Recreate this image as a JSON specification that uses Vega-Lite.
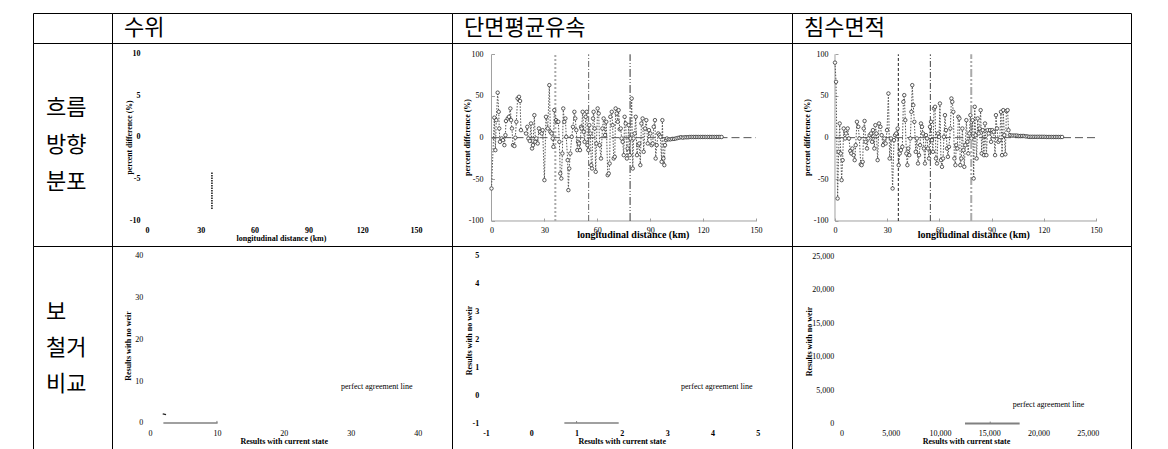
{
"$schema": "https://vega.github.io/schema/vega-lite/v6.json",
"padding": {"left": 32, "top": 12, "right": 0, "bottom": 0},
"spacing": 0,
"bounds": "flush",
"align": "each",
"columns": 4,
"config": {
  "view": {"stroke": "black", "strokeWidth": 1},
  "locale": {"number": {"decimal": ".", "thousands": ",", "grouping": [3], "currency": ["$", ""], "minus": "-"}},
  "axis": {"grid": false, "domain": false, "ticks": false, "tickSize": 0, "labelFont": "Liberation Serif", "titleFont": "Liberation Serif", "labelColor": "black", "titleColor": "black", "labelFontSize": 8, "titleFontSize": 8, "titleFontWeight": "bold", "labelFlush": false, "labelOverlap": false, "titleBaseline": "middle"},
  "text": {"font": "Liberation Serif", "fontSize": 8, "color": "black"}
},
"concat": [
    {"width": 79, "height": 30, "view": {"stroke": "black", "strokeWidth": 1}, "data": {"values": [{"t": ""}]}, "mark": {"type": "text"}, "encoding": {"text": {"field": "t"}}},
    {"width": 340, "height": 30, "view": {"stroke": "black", "strokeWidth": 1}, "data": {"values": [{"t": "수위"}]}, "mark": {"type": "text", "align": "left", "baseline": "middle", "dx": -158, "font": "Noto Sans CJK KR", "fontSize": 22, "color": "black"}, "encoding": {"text": {"field": "t"}}},
    {"width": 340, "height": 30, "view": {"stroke": "black", "strokeWidth": 1}, "data": {"values": [{"t": "단면평균유속"}]}, "mark": {"type": "text", "align": "left", "baseline": "middle", "dx": -158, "font": "Noto Sans CJK KR", "fontSize": 22, "color": "black"}, "encoding": {"text": {"field": "t"}}},
    {"width": 339, "height": 30, "view": {"stroke": "black", "strokeWidth": 1}, "data": {"values": [{"t": "침수면적"}]}, "mark": {"type": "text", "align": "left", "baseline": "middle", "dx": -157.5, "font": "Noto Sans CJK KR", "fontSize": 22, "color": "black"}, "encoding": {"text": {"field": "t"}}},
    {"width": 79, "height": 203, "view": {"stroke": "black", "strokeWidth": 1}, "data": {"values": [{"t": ["흐름", "방향", "분포"]}]}, "mark": {"type": "text", "align": "left", "baseline": "middle", "dx": -26.5, "dy": -37, "lineHeight": 37, "font": "Noto Sans CJK KR", "fontSize": 22, "color": "black"}, "encoding": {"text": {"field": "t"}}},
    {"width": 340, "height": 203,
     "encoding": {
       "x": {"field": "x", "type": "quantitative", "scale": {"domain": [-19.52, 170.07], "nice": false, "zero": false},
             "axis": {"values": [0, 30, 60, 90, 120, 150], "offset": -20, "labelPadding": 4.5, "labelBaseline": "middle", "labelFontWeight": "bold", "title": "longitudinal distance (km)", "titleX": 169, "titleY": 12}},
       "y": {"field": "y", "type": "quantitative", "scale": {"domain": [-13.12, 11.24], "nice": false, "zero": false},
             "axis": {"values": [-10, -5, 0, 5, 10], "offset": -30, "labelPadding": 2, "labelFontWeight": "bold", "title": "percent difference (%)", "titleX": -13, "titleY": 94, "titleFontSize": 7.7}}
     },
     "layer": [
       {"data": {"values": [{"x": 36.2, "y": -4.3, "y2": -8.7}]}, "mark": {"type": "rule", "color": "#222", "strokeWidth": 1.6, "strokeDash": [1.5, 1]}, "encoding": {"y2": {"field": "y2"}}}
     ]},
    {"width": 340, "height": 203,
     "encoding": {
       "x": {"field": "x", "type": "quantitative", "scale": {"domain": [-22.4, 170.42], "nice": false, "zero": false},
             "axis": {"values": [0, 30, 60, 90, 120, 150], "offset": -25, "ticks": true, "tickSize": -3, "tickColor": "#a0a0a0", "labelPadding": 12.3, "labelBaseline": "middle", "title": "longitudinal distance (km)", "titleX": 180.8, "titleY": 13.2, "titleFontSize": 10}},
       "y": {"field": "y", "type": "quantitative", "scale": {"domain": [-130.0, 113.56], "nice": false, "zero": false},
             "axis": {"values": [-100, -50, 0, 50, 100], "offset": -39.5, "ticks": true, "tickSize": -3, "tickColor": "#a0a0a0", "labelPadding": 11.5, "title": "percent difference (%)", "titleX": -23.8, "titleY": 94}}
     },
     "layer": [
       {"data": {"values": [{"x": 0, "y": -100, "y2": 100}]}, "mark": {"type": "rule", "color": "#a0a0a0", "strokeWidth": 1}, "encoding": {"y2": {"field": "y2"}}},
       {"data": {"values": [{"x": 0, "x2": 150, "y": -100}]}, "mark": {"type": "rule", "color": "#a0a0a0", "strokeWidth": 1}, "encoding": {"x2": {"field": "x2"}}},
       {"data": {"values": [{"x": 0, "x2": 150, "y": 0}]}, "mark": {"type": "rule", "color": "#555", "strokeWidth": 1, "strokeDash": [8, 4]}, "encoding": {"x2": {"field": "x2"}}},
       {"data": {"values": [{"x": 36.2, "y": -100, "y2": 100}]}, "mark": {"type": "rule", "color": "#aaaaaa", "strokeWidth": 2, "strokeDash": [2, 2]}, "encoding": {"y2": {"field": "y2"}}},
       {"data": {"values": [{"x": 55.1, "y": -100, "y2": 100}]}, "mark": {"type": "rule", "color": "#666", "strokeWidth": 1, "strokeDash": [6, 2, 1, 2]}, "encoding": {"y2": {"field": "y2"}}},
       {"data": {"values": [{"x": 78.6, "y": -100, "y2": 100}]}, "mark": {"type": "rule", "color": "#333", "strokeWidth": 1, "strokeDash": [8, 2, 1, 2, 1, 2]}, "encoding": {"y2": {"field": "y2"}}},
       {"data": {"values": [
         {"x":0.0,"y":-61},{"x":1.6,"y":24},{"x":2.2,"y":-15},{"x":2.7,"y":21},{"x":3.5,"y":54},{"x":4.1,"y":31},{"x":4.4,"y":11},{"x":4.8,"y":-5},{"x":5.8,"y":-1},{"x":6.5,"y":-3},{"x":7.3,"y":-9},{"x":7.9,"y":3},{"x":8.2,"y":20},{"x":9.2,"y":23},{"x":9.9,"y":25},{"x":10.7,"y":35},{"x":11.1,"y":21},{"x":11.6,"y":11},{"x":12.2,"y":-9},{"x":13.0,"y":-10},{"x":13.5,"y":0},{"x":14.1,"y":19},{"x":14.8,"y":47},{"x":15.6,"y":49},{"x":16.2,"y":44},{"x":16.7,"y":9},
         {"x":19.6,"y":5},{"x":20.3,"y":13},{"x":20.9,"y":-1},{"x":21.7,"y":-4},{"x":22.4,"y":17},{"x":23.0,"y":-13},{"x":23.5,"y":-9},{"x":24.3,"y":27},{"x":24.9,"y":-5},{"x":25.4,"y":-1},{"x":26.2,"y":-7},{"x":26.9,"y":11},{"x":27.5,"y":7},{"x":28.5,"y":5},{"x":29.0,"y":9},{"x":30.0,"y":-51},{"x":30.9,"y":25},{"x":31.9,"y":11},{"x":32.8,"y":63},{"x":33.4,"y":7},{"x":34.1,"y":5},{"x":34.7,"y":-1},{"x":35.1,"y":-11},{"x":35.6,"y":33},
         {"x":36.6,"y":21},{"x":37.2,"y":19},{"x":37.9,"y":19},{"x":38.5,"y":-5},{"x":39.0,"y":-43},{"x":39.6,"y":-49},{"x":40.2,"y":-19},{"x":40.7,"y":35},{"x":41.3,"y":19},{"x":41.9,"y":23},{"x":42.4,"y":1},{"x":43.2,"y":-27},{"x":43.6,"y":-63},{"x":44.1,"y":-37},{"x":44.7,"y":-19},{"x":45.5,"y":1},{"x":46.2,"y":13},{"x":47.0,"y":31},{"x":47.5,"y":23},{"x":48.1,"y":9},{"x":48.7,"y":-15},{"x":49.1,"y":-5},{"x":49.6,"y":-7},{"x":50.2,"y":-15},{"x":50.8,"y":13},{"x":51.1,"y":11},{"x":51.7,"y":31},{"x":52.3,"y":7},{"x":52.8,"y":-5},{"x":53.4,"y":25},{"x":54.0,"y":31},{"x":54.4,"y":-9},{"x":54.9,"y":-15},
         {"x":55.5,"y":15},{"x":56.1,"y":5},{"x":56.6,"y":-33},{"x":57.0,"y":-37},{"x":57.6,"y":23},{"x":57.9,"y":31},{"x":58.5,"y":11},{"x":59.1,"y":-41},{"x":59.5,"y":-7},{"x":60.2,"y":35},{"x":60.8,"y":29},{"x":61.3,"y":-9},{"x":62.1,"y":-25},{"x":62.9,"y":11},{"x":63.6,"y":23},{"x":64.4,"y":3},{"x":65.1,"y":19},{"x":65.9,"y":-45},{"x":66.5,"y":-43},{"x":67.0,"y":-31},{"x":67.4,"y":25},{"x":68.2,"y":31},{"x":68.7,"y":15},{"x":69.3,"y":-25},{"x":69.9,"y":-23},{"x":70.4,"y":35},{"x":71.0,"y":29},{"x":71.6,"y":19},{"x":72.1,"y":33},{"x":72.7,"y":10},{"x":73.3,"y":11},{"x":73.8,"y":-1},{"x":74.4,"y":-5},{"x":75.0,"y":-21},{"x":75.5,"y":25},{"x":76.1,"y":17},{"x":76.8,"y":-25},{"x":77.2,"y":-13},{"x":77.8,"y":15},{"x":78.4,"y":-21},{"x":78.9,"y":-1},
         {"x":79.5,"y":47},{"x":80.1,"y":-37},{"x":80.6,"y":-1},{"x":81.2,"y":5},{"x":81.8,"y":25},{"x":82.5,"y":-21},{"x":83.3,"y":-9},{"x":83.8,"y":-7},{"x":84.4,"y":-33},{"x":85.0,"y":17},{"x":85.7,"y":23},{"x":86.3,"y":-17},{"x":87.1,"y":11},{"x":87.8,"y":21},{"x":88.6,"y":-7},{"x":89.3,"y":9},{"x":90.1,"y":5},{"x":90.8,"y":-9},{"x":91.4,"y":-7},{"x":92.0,"y":13},{"x":92.7,"y":21},{"x":93.1,"y":-25},{"x":93.7,"y":-9},{"x":94.6,"y":5},{"x":95.2,"y":3},{"x":95.8,"y":1},{"x":96.5,"y":-29},{"x":96.9,"y":21},{"x":97.5,"y":-25},{"x":98.0,"y":-33},{"x":98.4,"y":-9},{"x":99.0,"y":-3},{"x":99.5,"y":-1},
         {"x":100.5,"y":-2},{"x":101.5,"y":-2},{"x":102.5,"y":-1.5},{"x":103.5,"y":-1.5},{"x":104.5,"y":-1},{"x":105.5,"y":-0.5},{"x":106.5,"y":0},{"x":107.5,"y":0.5},{"x":108.5,"y":0},{"x":109.5,"y":0.5},{"x":110.5,"y":0.5},{"x":111.5,"y":0.5},{"x":112.5,"y":0.8},{"x":113.5,"y":0.8},{"x":114.5,"y":0.8},{"x":115.5,"y":0.8},{"x":116.5,"y":0.8},{"x":117.5,"y":0.8},{"x":118.5,"y":0.8},{"x":119.5,"y":0.8},{"x":120.5,"y":0.8},{"x":121.5,"y":0.8},{"x":122.5,"y":0.8},{"x":123.5,"y":0.8},{"x":124.5,"y":0.8},{"x":125.5,"y":0.8},{"x":126.5,"y":0.8},{"x":127.5,"y":0.8},{"x":128.5,"y":0.8},{"x":129.5,"y":0.8},{"x":130.5,"y":0.8}
       ]},
        "layer": [
          {"mark": {"type": "line", "color": "#555", "strokeWidth": 1, "strokeDash": [1.5, 1.5]}, "encoding": {}},
          {"mark": {"type": "point", "shape": "circle", "filled": false, "fill": "white", "fillOpacity": 1, "stroke": "#333", "strokeWidth": 0.8, "size": 12, "opacity": 1}, "encoding": {}}
        ]}
     ]},
    {"width": 339, "height": 203,
     "encoding": {
       "x": {"field": "x", "type": "quantitative", "scale": {"domain": [-24.71, 170.11], "nice": false, "zero": false},
             "axis": {"values": [0, 30, 60, 90, 120, 150], "offset": -25, "ticks": true, "tickSize": -3, "tickColor": "#a0a0a0", "labelPadding": 12.5, "labelBaseline": "middle", "title": "longitudinal distance (km)", "titleX": 181.3, "titleY": 13.8, "titleFontSize": 10}},
       "y": {"field": "y", "type": "quantitative", "scale": {"domain": [-130.0, 113.56], "nice": false, "zero": false},
             "axis": {"values": [-100, -50, 0, 50, 100], "offset": -43, "ticks": true, "tickSize": -3, "tickColor": "#a0a0a0", "labelPadding": 10, "title": "percent difference (%)", "titleX": -27.3, "titleY": 94}}
     },
     "layer": [
       {"data": {"values": [{"x": 0, "y": -100, "y2": 100}]}, "mark": {"type": "rule", "color": "#a0a0a0", "strokeWidth": 1}, "encoding": {"y2": {"field": "y2"}}},
       {"data": {"values": [{"x": 0, "x2": 150, "y": -100}]}, "mark": {"type": "rule", "color": "#a0a0a0", "strokeWidth": 1}, "encoding": {"x2": {"field": "x2"}}},
       {"data": {"values": [{"x": 0, "x2": 150, "y": 0}]}, "mark": {"type": "rule", "color": "#555", "strokeWidth": 1, "strokeDash": [8, 4]}, "encoding": {"x2": {"field": "x2"}}},
       {"data": {"values": [{"x": 36.4, "y": -100, "y2": 100}]}, "mark": {"type": "rule", "color": "#222", "strokeWidth": 1, "strokeDash": [3, 2]}, "encoding": {"y2": {"field": "y2"}}},
       {"data": {"values": [{"x": 54.8, "y": -100, "y2": 100}]}, "mark": {"type": "rule", "color": "#444", "strokeWidth": 1, "strokeDash": [6, 2, 1, 2]}, "encoding": {"y2": {"field": "y2"}}},
       {"data": {"values": [{"x": 78.3, "y": -100, "y2": 100}]}, "mark": {"type": "rule", "color": "#aaaaaa", "strokeWidth": 2, "strokeDash": [8, 2, 2, 2, 2, 2]}, "encoding": {"y2": {"field": "y2"}}},
       {"data": {"values": [
         {"x":0.0,"y":90},{"x":0.6,"y":67},{"x":1.5,"y":-73},{"x":2.1,"y":-17},{"x":2.7,"y":17},{"x":3.3,"y":-19},{"x":3.8,"y":-51},{"x":4.4,"y":-27},{"x":5.0,"y":11},{"x":5.8,"y":-1},{"x":6.3,"y":5},{"x":7.3,"y":11},{"x":8.0,"y":-1},{"x":8.8,"y":-16},{"x":9.4,"y":-19},{"x":10.0,"y":-13},{"x":10.7,"y":-21},{"x":11.3,"y":-27},{"x":11.9,"y":-9},{"x":12.6,"y":19},{"x":13.4,"y":13},{"x":14.0,"y":-1},{"x":14.8,"y":-32},{"x":15.3,"y":-33},{"x":15.9,"y":-29},{"x":16.5,"y":11},{"x":17.0,"y":20},{"x":17.6,"y":-5},{"x":18.4,"y":-13},{"x":19.2,"y":-1},{"x":19.9,"y":3},{"x":20.7,"y":5},{"x":21.3,"y":-5},{"x":21.8,"y":9},{"x":22.6,"y":-13},{"x":23.2,"y":15},{"x":23.8,"y":5},{"x":24.5,"y":-27},{"x":25.3,"y":17},{"x":26.1,"y":13},{"x":26.8,"y":3},{"x":27.6,"y":-9},{"x":28.4,"y":-1},{"x":29.1,"y":-7},{"x":29.9,"y":9},{"x":30.7,"y":53},{"x":31.4,"y":-25},{"x":32.2,"y":-1},{"x":33.1,"y":-61},{"x":33.9,"y":-3},{"x":34.5,"y":3},{"x":35.2,"y":5},{"x":36.0,"y":11},
         {"x":36.6,"y":-33},{"x":37.2,"y":-19},{"x":37.9,"y":-15},{"x":38.7,"y":-11},{"x":39.3,"y":43},{"x":39.8,"y":51},{"x":40.4,"y":21},{"x":41.0,"y":-19},{"x":41.6,"y":-33},{"x":42.1,"y":-13},{"x":42.7,"y":-21},{"x":43.3,"y":-1},{"x":43.9,"y":31},{"x":44.4,"y":63},{"x":45.0,"y":39},{"x":45.6,"y":19},{"x":46.4,"y":-17},{"x":47.1,"y":-1},{"x":47.7,"y":-31},{"x":48.3,"y":-21},{"x":48.9,"y":-9},{"x":49.4,"y":17},{"x":50.0,"y":13},{"x":50.6,"y":5},{"x":51.1,"y":-13},{"x":51.7,"y":-31},{"x":52.3,"y":3},{"x":52.9,"y":-1},{"x":53.4,"y":-13},{"x":54.0,"y":-25},{"x":54.6,"y":13},
         {"x":55.2,"y":19},{"x":55.7,"y":-3},{"x":56.3,"y":-17},{"x":56.9,"y":35},{"x":57.5,"y":37},{"x":58.0,"y":-25},{"x":58.6,"y":-31},{"x":59.2,"y":5},{"x":59.8,"y":1},{"x":60.3,"y":41},{"x":60.9,"y":-27},{"x":61.5,"y":-35},{"x":62.1,"y":-25},{"x":62.6,"y":1},{"x":63.2,"y":27},{"x":63.8,"y":9},{"x":64.4,"y":-13},{"x":64.9,"y":-23},{"x":65.5,"y":-11},{"x":66.3,"y":11},{"x":66.9,"y":47},{"x":67.4,"y":43},{"x":68.0,"y":31},{"x":68.6,"y":-25},{"x":69.2,"y":-33},{"x":69.7,"y":-9},{"x":70.3,"y":-13},{"x":70.9,"y":25},{"x":71.5,"y":23},{"x":72.0,"y":-33},{"x":72.6,"y":-25},{"x":73.2,"y":11},{"x":73.8,"y":-15},{"x":74.3,"y":-35},{"x":74.9,"y":-9},{"x":75.5,"y":21},{"x":76.1,"y":-5},{"x":76.6,"y":-19},{"x":77.2,"y":5},{"x":77.8,"y":27},{"x":78.4,"y":-1},
         {"x":79.1,"y":21},{"x":79.7,"y":-49},{"x":80.3,"y":37},{"x":80.8,"y":3},{"x":81.4,"y":-25},{"x":82.0,"y":23},{"x":82.6,"y":5},{"x":83.1,"y":11},{"x":83.7,"y":33},{"x":84.3,"y":-19},{"x":84.9,"y":9},{"x":85.6,"y":-21},{"x":86.2,"y":17},{"x":87.0,"y":-21},{"x":87.7,"y":9},{"x":88.3,"y":5},{"x":89.1,"y":9},{"x":89.7,"y":-5},{"x":90.4,"y":9},{"x":91.2,"y":7},{"x":92.0,"y":-21},{"x":92.5,"y":27},{"x":93.1,"y":11},{"x":93.9,"y":-5},{"x":94.6,"y":-3},{"x":95.4,"y":31},{"x":96.0,"y":-21},{"x":96.7,"y":33},{"x":97.3,"y":3},{"x":97.9,"y":-20},{"x":98.5,"y":32},{"x":99.2,"y":33},{"x":99.7,"y":9},
         {"x":100.5,"y":3},{"x":101.5,"y":2.5},{"x":102.5,"y":2.5},{"x":103.5,"y":2.5},{"x":104.5,"y":2.5},{"x":105.5,"y":2},{"x":106.5,"y":2},{"x":107.5,"y":2},{"x":108.5,"y":2},{"x":109.5,"y":1.5},{"x":110.5,"y":1.5},{"x":111.5,"y":1},{"x":112.5,"y":1},{"x":113.5,"y":1},{"x":114.5,"y":1},{"x":115.5,"y":1},{"x":116.5,"y":1},{"x":117.5,"y":1},{"x":118.5,"y":1},{"x":119.5,"y":1},{"x":120.5,"y":1},{"x":121.5,"y":0.8},{"x":122.5,"y":0.8},{"x":123.5,"y":0.8},{"x":124.5,"y":0.8},{"x":125.5,"y":0.8},{"x":126.5,"y":0.8},{"x":127.5,"y":0.8},{"x":128.5,"y":0.8},{"x":129.5,"y":0.8},{"x":130.5,"y":0.8}
       ]},
        "layer": [
          {"mark": {"type": "line", "color": "#555", "strokeWidth": 1, "strokeDash": [1.5, 1.5]}, "encoding": {}},
          {"mark": {"type": "point", "shape": "circle", "filled": false, "fill": "white", "fillOpacity": 1, "stroke": "#333", "strokeWidth": 0.8, "size": 12, "opacity": 1}, "encoding": {}}
        ]}
     ]},
    {"width": 79, "height": 203, "view": {"stroke": "black", "strokeWidth": 1}, "data": {"values": [{"t": ["보", "철거", "비교"]}]}, "mark": {"type": "text", "align": "left", "baseline": "middle", "dx": -26.5, "dy": -35.5, "lineHeight": 36, "font": "Noto Sans CJK KR", "fontSize": 22, "color": "black"}, "encoding": {"text": {"field": "t"}}},
    {"width": 340, "height": 203,
     "encoding": {
       "x": {"field": "x", "type": "quantitative", "scale": {"domain": [-5.678, 45.125], "nice": false, "zero": false},
             "axis": {"values": [0, 10, 20, 30, 40], "offset": -20, "labelPadding": 4.3, "labelBaseline": "middle", "title": "Results with current state", "titleX": 171.7, "titleY": 12.3}},
       "y": {"field": "y", "type": "quantitative", "scale": {"domain": [-6.228, 42.395], "nice": false, "zero": false},
             "axis": {"values": [0, 10, 20, 30, 40], "offset": -33, "labelPadding": 2.3, "title": "Results with no weir", "titleX": -16.3, "titleY": 99.5}}
     },
     "layer": [
       {"data": {"values": [{"x": 2.0, "x2": 10.1, "y": 0}]}, "mark": {"type": "rule", "color": "#808080", "strokeWidth": 1.3}, "encoding": {"x2": {"field": "x2"}}},
       {"data": {"values": [{"x": 10.0, "y": 0, "y2": 0.5}]}, "mark": {"type": "rule", "color": "#808080", "strokeWidth": 1}, "encoding": {"y2": {"field": "y2"}}},
       {"data": {"values": [{"x": 1.9, "x2": 2.4, "y": 2.2, "y2": 2.0}]}, "mark": {"type": "rule", "color": "#222", "strokeWidth": 1.2}, "encoding": {"x2": {"field": "x2"}, "y2": {"field": "y2"}}},
       {"data": {"values": [{"x": 28.54, "y": 8.69, "t": "perfect agreement line"}]}, "mark": {"type": "text", "align": "left", "baseline": "middle", "font": "Liberation Serif", "fontSize": 8, "color": "black"}, "encoding": {"text": {"field": "t"}}}
     ]},
    {"width": 340, "height": 203,
     "encoding": {
       "x": {"field": "x", "type": "quantitative", "scale": {"domain": [-1.751, 5.757], "nice": false, "zero": false},
             "axis": {"values": [-1, 0, 1, 2, 3, 4, 5], "offset": -20, "labelPadding": 4.3, "labelBaseline": "middle", "labelFontWeight": "bold", "title": "Results with current state", "titleX": 169.7, "titleY": 12.3}},
       "y": {"field": "y", "type": "quantitative", "scale": {"domain": [-1.934, 5.359], "nice": false, "zero": false},
             "axis": {"values": [-1, 0, 1, 2, 3, 4, 5], "offset": -29, "labelPadding": 2.3, "labelFontWeight": "bold", "title": "Results with no weir", "titleX": -11.7, "titleY": 94}}
     },
     "layer": [
       {"data": {"values": [{"x": 0.73, "x2": 1.93, "y": -1}]}, "mark": {"type": "rule", "color": "#808080", "strokeWidth": 1.3}, "encoding": {"x2": {"field": "x2"}}},
       {"data": {"values": [{"x": 1.0, "y": -1, "y2": -0.93}]}, "mark": {"type": "rule", "color": "#808080", "strokeWidth": 1}, "encoding": {"y2": {"field": "y2"}}},
       {"data": {"values": [{"x": 3.306, "y": 0.3, "t": "perfect agreement line"}]}, "mark": {"type": "text", "align": "left", "baseline": "middle", "font": "Liberation Serif", "fontSize": 8, "color": "black"}, "encoding": {"text": {"field": "t"}}}
     ]},
    {"width": 339, "height": 203,
     "encoding": {
       "x": {"field": "x", "type": "quantitative", "scale": {"domain": [-5026, 29397], "nice": false, "zero": false},
             "axis": {"values": [0, 5000, 10000, 15000, 20000, 25000], "format": ",d", "offset": -20, "labelPadding": 4.3, "labelBaseline": "middle", "title": "Results with current state", "titleX": 174, "titleY": 12.3}},
       "y": {"field": "y", "type": "quantitative", "scale": {"domain": [-3789, 26492], "nice": false, "zero": false},
             "axis": {"values": [0, 5000, 10000, 15000, 20000, 25000], "format": ",d", "offset": -44, "labelPadding": 2.3, "title": "Results with no weir", "titleX": -26.7, "titleY": 95}}
     },
     "layer": [
       {"data": {"values": [{"x": 12540, "x2": 18090, "y": 0}]}, "mark": {"type": "rule", "color": "#808080", "strokeWidth": 2}, "encoding": {"x2": {"field": "x2"}}},
       {"data": {"values": [{"x": 15100, "y": 0, "y2": 300}]}, "mark": {"type": "rule", "color": "#808080", "strokeWidth": 1}, "encoding": {"y2": {"field": "y2"}}},
       {"data": {"values": [{"x": 17384, "y": 2730, "t": "perfect agreement line"}]}, "mark": {"type": "text", "align": "left", "baseline": "middle", "font": "Liberation Serif", "fontSize": 8, "color": "black"}, "encoding": {"text": {"field": "t"}}}
     ]}
]
}
